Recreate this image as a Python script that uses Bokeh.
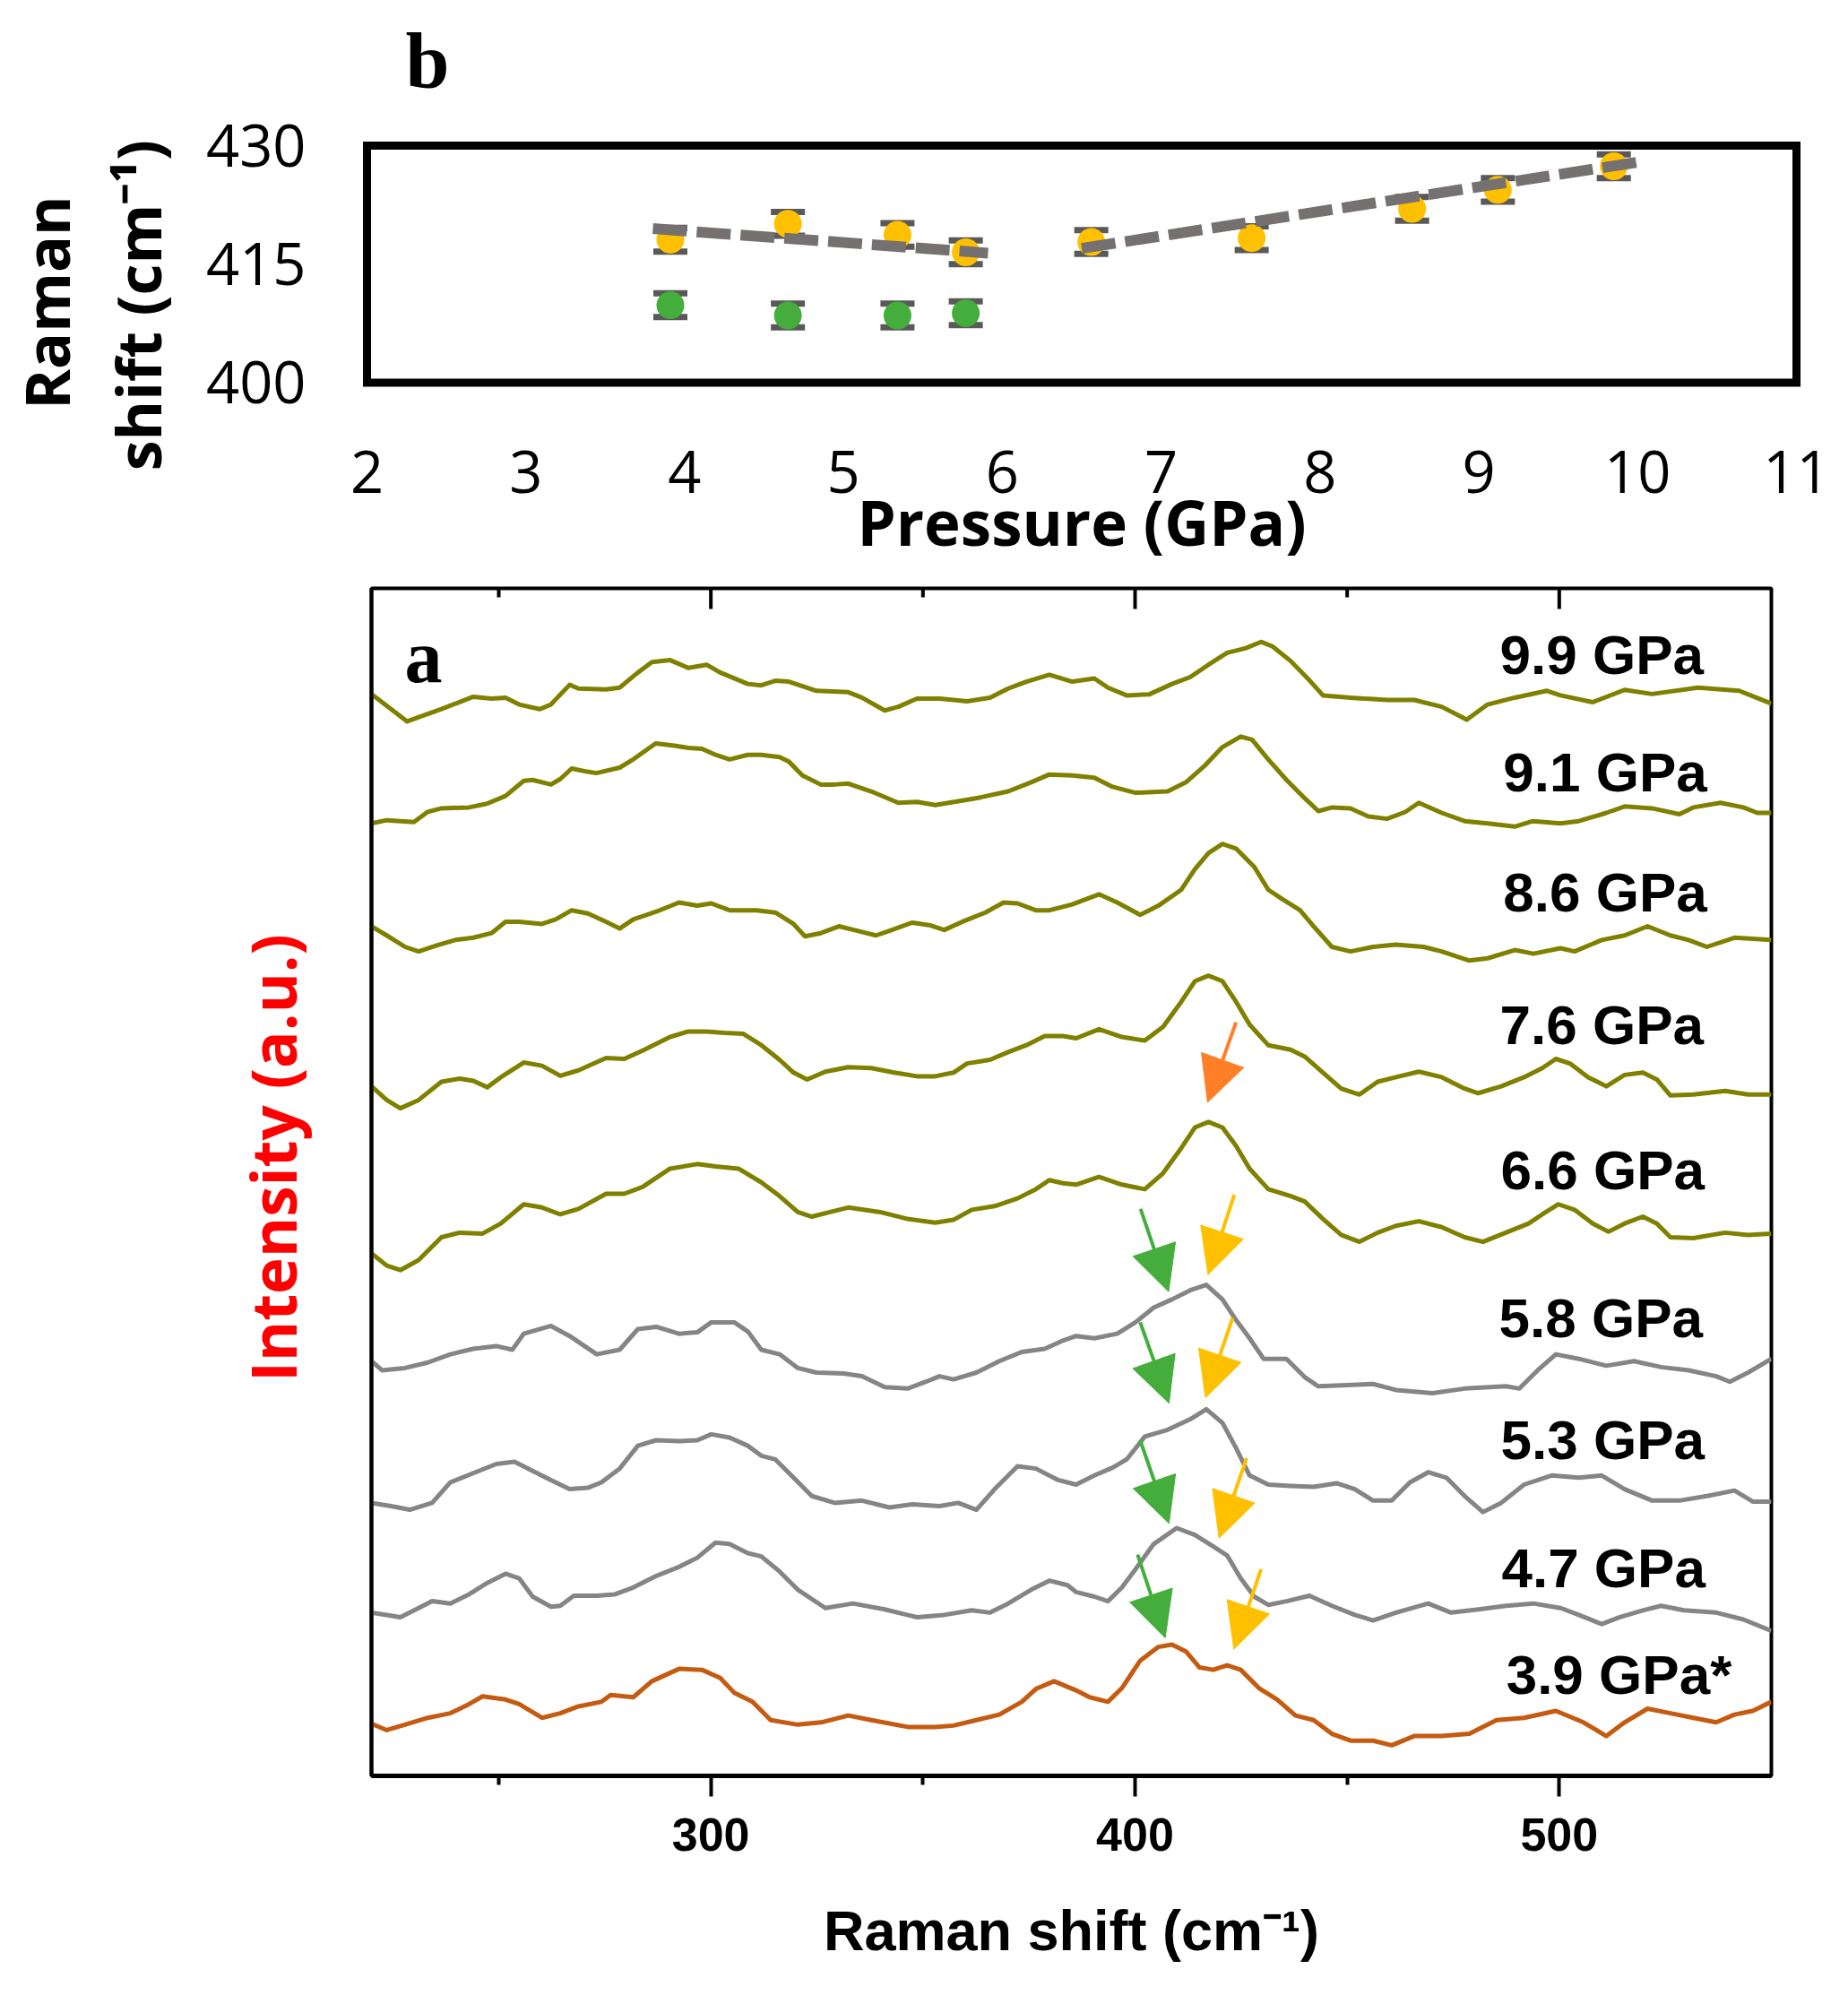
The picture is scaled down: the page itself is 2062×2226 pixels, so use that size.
import math
from bokeh.plotting import figure
from bokeh.models import Range1d, FixedTicker, Arrow, NormalHead, ColumnDataSource
from bokeh.layouts import column, row
from bokeh.core.properties import value
from bokeh.embed import file_html
from bokeh.resources import INLINE

# ---------------- panel b data ----------------
P_YELLOW = [3.91, 4.65, 5.34, 5.77, 6.56, 7.57, 8.58, 9.12, 9.85]
S_YELLOW = [418.1, 420.1, 418.7, 416.5, 417.8, 418.3, 422.0, 424.4, 427.4]
P_GREEN = [3.91, 4.65, 5.34, 5.77]
S_GREEN = [409.8, 408.5, 408.5, 408.8]
ERR = 1.5
FIT1_P = [3.80, 5.91]
FIT1_S = [419.5, 416.4]
FIT2_P = [6.50, 10.0]
FIT2_S = [417.0, 427.9]
B_XTICKS = [2, 3, 4, 5, 6, 7, 8, 9, 10, 11]
B_YTICKS = [400, 415, 430]
B_BOX = dict(left=[2], right=[11], bottom=[400], top=[430])

# ---------------- panel a data (Raman shift cm-1, intensity a.u.) ----------------
S_99 = [(220, 2366), (228.4, 2306), (236.5, 2333), (244, 2360), (248.3, 2356), (251.6, 2358), (254.8, 2343),
        (259.7, 2333), (262.3, 2343), (266.7, 2386), (268.8, 2378), (275.3, 2376), (278.5, 2380), (282.8, 2413),
        (286.1, 2436), (290.4, 2440), (294.7, 2423), (299, 2430), (302.2, 2413), (308.7, 2388), (311.9, 2385),
        (315.2, 2395), (318.4, 2393), (324.9, 2373), (332.4, 2370), (335.6, 2358), (341, 2330), (344.2, 2338),
        (348.6, 2356), (353.9, 2356), (360.4, 2350), (365.8, 2358), (370.1, 2378), (374.4, 2393), (379.8, 2408),
        (385.2, 2393), (390.4, 2400), (393.6, 2380), (398, 2363), (403.3, 2365), (408.7, 2388), (413, 2403),
        (417.3, 2430), (421.7, 2456), (426, 2466), (429.7, 2480), (432.4, 2470), (436.7, 2438), (441.1, 2396),
        (444.3, 2363), (450.8, 2358), (459.4, 2353), (465.8, 2353), (472.3, 2338), (478.2, 2310), (483.1, 2343),
        (489.5, 2358), (497.1, 2373), (500.3, 2363), (507.9, 2348), (515.4, 2375), (521.9, 2366), (532.7, 2380),
        (542.4, 2373), (550, 2345)]
S_91 = [(220, 2083), (223.6, 2090), (230.0, 2086), (233.2, 2108), (236.5, 2116), (243, 2118), (247.2, 2126),
        (251.6, 2143), (255.9, 2176), (258.0, 2178), (262.3, 2168), (264.5, 2180), (267.2, 2203), (270.9, 2196),
        (273, 2193), (278.5, 2205), (281.7, 2223), (287, 2258), (291.4, 2253), (294.7, 2248), (297.9, 2246),
        (301.1, 2233), (304.4, 2223), (308.7, 2233), (311.9, 2233), (316.2, 2228), (318.4, 2218), (321.6, 2188),
        (325.9, 2168), (329.1, 2168), (332.4, 2170), (337.8, 2153), (344.2, 2128), (348.6, 2130), (352.9, 2123),
        (359.3, 2133), (363.6, 2140), (370.1, 2153), (375.5, 2173), (379.8, 2190), (385.2, 2188), (390.4, 2183),
        (394.7, 2163), (400.1, 2150), (407.7, 2153), (412, 2173), (416.3, 2208), (420.6, 2250), (424.9, 2273),
        (427.6, 2266), (431.4, 2223), (435.7, 2178), (440, 2138), (443.2, 2110), (446.5, 2118), (450.8, 2116),
        (455, 2098), (459.4, 2093), (463.7, 2108), (466.9, 2128), (472.3, 2106), (477.7, 2088), (483.1, 2083),
        (489.5, 2076), (493.8, 2088), (500.3, 2083), (504.6, 2088), (511.1, 2106), (515.4, 2120), (521.9, 2116),
        (528.3, 2103), (531.6, 2118), (538, 2128), (543.4, 2118), (546.7, 2106), (550, 2106)]
S_86 = [(220, 1858), (223.6, 1838), (227.9, 1813), (231.1, 1803), (235.4, 1816), (239.7, 1828), (244, 1833),
        (248.3, 1843), (251.6, 1868), (254.8, 1868), (260.2, 1863), (263.4, 1873), (267.2, 1893), (271, 1886),
        (275.3, 1868), (278.5, 1853), (281.7, 1873), (287.1, 1890), (292.5, 1910), (296.8, 1903), (300.1, 1908),
        (304.4, 1893), (310.8, 1893), (315.2, 1888), (319.5, 1863), (322.2, 1836), (325.9, 1843), (330.2, 1858),
        (334.6, 1848), (338.9, 1838), (342.1, 1848), (347.5, 1866), (351.8, 1860), (355, 1850), (359.3, 1868),
        (364.7, 1888), (369, 1910), (372.3, 1908), (376.6, 1893), (379.8, 1893), (385.2, 1906), (391.5, 1928),
        (395.8, 1910), (401.2, 1883), (405.5, 1903), (410.9, 1938), (414.1, 1983), (417.3, 2018), (420.6, 2038),
        (423.8, 2028), (428.1, 1988), (431.4, 1938), (434.6, 1918), (438.9, 1893), (442.1, 1858), (446.4, 1813),
        (450.8, 1803), (456.1, 1813), (461.5, 1818), (468, 1813), (472.3, 1803), (478.8, 1783), (483.1, 1788),
        (489.5, 1806), (493.9, 1798), (500.3, 1810), (503.6, 1803), (510, 1828), (515.4, 1838), (520.8, 1858),
        (526.2, 1838), (530.5, 1828), (534.8, 1813), (541.3, 1833), (550, 1828)]
S_76 = [(220, 1508), (223.6, 1478), (226.8, 1460), (231.1, 1478), (236.5, 1518), (240.8, 1525), (244, 1520),
        (247.3, 1506), (250.5, 1528), (255.9, 1560), (260.2, 1553), (264.5, 1531), (268.8, 1543), (275.3, 1570),
        (279.6, 1568), (283.9, 1586), (290.4, 1616), (294.7, 1628), (299, 1628), (303.3, 1625), (307.6, 1623),
        (311.9, 1598), (316.2, 1566), (319.5, 1538), (322.7, 1523), (327, 1540), (332.4, 1550), (337.8, 1548),
        (343.2, 1538), (348.6, 1530), (352.9, 1530), (357.2, 1538), (360.4, 1558), (365.8, 1566), (370.1, 1583),
        (374.4, 1598), (378.7, 1618), (383, 1618), (386.1, 1613), (391.5, 1633), (396.9, 1616), (402.3, 1608),
        (406.6, 1638), (410.9, 1693), (414.1, 1738), (417.3, 1750), (420.6, 1738), (423.8, 1693), (427, 1643),
        (431.4, 1598), (436.7, 1588), (440, 1573), (444.3, 1538), (448.6, 1503), (452.9, 1490), (457.2, 1518),
        (461.5, 1528), (466.9, 1540), (472.3, 1528), (477.7, 1503), (480.9, 1493), (486.3, 1508), (491.7, 1528),
        (496, 1548), (499.2, 1568), (502.5, 1558), (506.8, 1528), (511.1, 1508), (515.4, 1533), (519.7, 1538),
        (523, 1523), (526.2, 1488), (531.6, 1490), (539.1, 1498), (544.5, 1490), (550, 1490)]
S_66 = [(220, 1143), (223.6, 1116), (226.8, 1106), (231.1, 1128), (236.5, 1178), (240.8, 1188), (246.2, 1186),
        (250.5, 1208), (255.9, 1250), (260.2, 1243), (264.5, 1228), (268.8, 1240), (275.3, 1273), (279.6, 1273),
        (283.9, 1288), (290.4, 1328), (296.8, 1338), (301.1, 1333), (306.5, 1328), (311.9, 1298), (316.2, 1268),
        (320.5, 1233), (323.8, 1223), (328.1, 1233), (332.4, 1243), (339.9, 1233), (346.4, 1218), (352.9, 1210),
        (357.2, 1216), (361.5, 1238), (366.9, 1246), (372.3, 1263), (376.6, 1283), (379.8, 1303), (383, 1296),
        (386.1, 1293), (391.5, 1310), (396.9, 1293), (402.3, 1283), (406.6, 1318), (410.9, 1373), (414.1, 1418),
        (417.3, 1430), (420.6, 1418), (423.8, 1378), (427, 1328), (431.4, 1283), (436.7, 1268), (440, 1256),
        (444.3, 1218), (448.6, 1183), (452.9, 1168), (457.2, 1188), (461.5, 1203), (466.9, 1213), (472.3, 1200),
        (477.7, 1178), (482, 1168), (487.4, 1188), (492.8, 1208), (496, 1228), (499.8, 1250), (503.6, 1238),
        (507.9, 1208), (511.6, 1190), (515.4, 1208), (519.7, 1223), (523, 1208), (526.2, 1178), (531.6, 1176),
        (539.1, 1188), (544.5, 1183), (550, 1186)]
S_58 = [(220, 907), (222.5, 887), (227.9, 892), (233.3, 904), (238.6, 922), (244, 934), (249.4, 940),
        (253.2, 932), (255.9, 967), (262.3, 984), (266.7, 962), (273.1, 922), (278.5, 932), (282.8, 977),
        (287.1, 982), (292.5, 967), (296.8, 970), (300.1, 992), (305.5, 992), (308.7, 972), (311.9, 932),
        (316.2, 922), (320.5, 892), (324.9, 882), (331.3, 880), (335.6, 874), (341, 850), (346.4, 847),
        (350.7, 862), (353.9, 874), (357.2, 867), (362.6, 882), (368, 907), (373.3, 927), (378.7, 934),
        (383, 952), (386.1, 962), (390.4, 957), (395.8, 967), (400.1, 992), (404.4, 1024), (408.7, 1042),
        (413, 1062), (416.8, 1074), (420.6, 1042), (423.8, 997), (427, 957), (430.3, 912), (435.7, 912),
        (440, 872), (443.2, 852), (448.6, 854), (456.1, 857), (461.5, 844), (470.1, 837), (477.7, 847),
        (487.4, 852), (490.6, 847), (494.9, 887), (499.2, 922), (504.6, 912), (511.1, 897), (517.6, 907),
        (524, 894), (530.5, 887), (537, 874), (540.2, 862), (544.5, 882), (550, 912)]
S_53 = [(220, 597), (224.6, 590), (229, 582), (234.3, 597), (238.6, 642), (244, 662), (249.4, 682),
        (253.7, 687), (258, 667), (262.3, 647), (266.7, 627), (271, 630), (274.2, 642), (278.5, 672),
        (282.8, 722), (287.1, 734), (292.5, 732), (296.8, 734), (300.1, 747), (304.4, 740), (308.7, 722),
        (311.9, 700), (315.2, 692), (319.5, 652), (323.8, 612), (329.2, 597), (335.6, 602), (342.1, 587),
        (347.5, 594), (353.9, 590), (358.3, 597), (362.6, 582), (366.9, 627), (372.3, 677), (376.6, 672),
        (381.9, 647), (386.1, 637), (390.4, 657), (394.7, 674), (398, 692), (402.3, 742), (407.7, 757),
        (413, 780), (416.8, 802), (420.6, 772), (423.8, 717), (427, 657), (431.4, 637), (436.7, 634),
        (442.1, 632), (447.5, 640), (451.8, 627), (456.1, 602), (460.5, 602), (464.8, 642), (469.1, 664),
        (473.4, 652), (477.7, 612), (482, 577), (486.3, 597), (491.7, 637), (498.2, 657), (504.6, 652),
        (510, 657), (515.4, 627), (521.9, 602), (528.3, 602), (534.8, 612), (541.3, 624), (545.6, 600),
        (550, 600)]
S_47 = [(220, 357), (223.6, 352), (226.8, 347), (231.1, 367), (234.3, 382), (238.6, 377), (243, 397),
        (247.3, 422), (251.6, 442), (254.8, 432), (258, 392), (262.3, 370), (264.5, 372), (267.7, 394),
        (273.1, 394), (277.4, 397), (281.7, 412), (287.1, 437), (292.5, 457), (296.8, 477), (301.1, 510),
        (304.4, 507), (308.7, 487), (311.9, 480), (316.2, 447), (320.5, 407), (327, 367), (333.5, 377),
        (341, 364), (348.6, 347), (355, 352), (361.5, 362), (365.8, 357), (370.1, 377), (375.5, 407),
        (379.8, 427), (384.1, 417), (386.1, 402), (390.4, 392), (393.6, 382), (396.9, 412), (400.1, 452),
        (404.4, 507), (409.8, 542), (414.1, 527), (418.4, 502), (421.7, 482), (424.9, 432), (428.1, 392),
        (431.4, 374), (435.7, 382), (441.1, 394), (446.4, 372), (451.8, 352), (456.1, 340), (461.5, 357),
        (469.1, 377), (474.5, 357), (481, 364), (487.4, 372), (493.9, 377), (500.3, 367), (504.6, 352),
        (510, 332), (514.3, 347), (519.7, 362), (524, 372), (529.4, 362), (537, 357), (543.4, 342),
        (550, 317)]
S_39 = [(220, 114), (223.6, 100), (227.9, 112), (233.3, 127), (238.6, 137), (243, 157), (246.2, 174),
        (251.6, 167), (254.8, 157), (260.2, 127), (264.5, 137), (268.8, 152), (274.2, 162), (276.4, 177),
        (281.7, 172), (286.1, 207), (292.5, 234), (297.9, 232), (302.2, 214), (305.5, 182), (309.8, 162),
        (314.1, 122), (320.5, 112), (326, 117), (332.4, 132), (337.8, 122), (346.4, 107), (352.9, 107),
        (357.2, 110), (362.6, 122), (368, 134), (373.3, 162), (376.6, 190), (380.9, 207), (386.1, 187),
        (389.3, 172), (393.6, 162), (396.9, 192), (401.2, 252), (405.5, 282), (408.7, 287), (412, 272),
        (415.2, 237), (418.4, 232), (421.7, 242), (424.9, 232), (429.2, 192), (433.5, 167), (437.8, 132),
        (442.1, 122), (446.4, 92), (450.8, 77), (456.1, 77), (460.5, 67), (465.8, 87), (472.3, 87),
        (478.8, 92), (485.2, 122), (491.7, 127), (499.2, 142), (505.7, 117), (511.1, 87), (515.4, 117),
        (520.8, 147), (526.2, 137), (531.6, 127), (537, 117), (541.3, 134), (545.6, 142), (550, 162)]

SPEC_LABELS = ["9.9 GPa", "9.1 GPa", "8.6 GPa", "7.6 GPa", "6.6 GPa", "5.8 GPa", "5.3 GPa", "4.7 GPa", "3.9 GPa*"]
LABEL_X = [486, 486.8, 486.8, 486, 486.2, 485.8, 486.2, 486.4, 487.5]
LABEL_Y = [2452, 2195, 1933, 1643, 1325, 1002, 735, 455, 222]
A_XTICKS = [300, 400, 500]
A_XMINOR = [250, 350, 450]

# arrows (start -> tip)
ARR_ORANGE = dict(x0=[423.8], y0=[1648], x1=[417.1], y1=[1473])
ARR_GREEN = dict(x0=[401.3, 401.2, 401.2, 400.6], y0=[1240, 992, 734, 484],
                 x1=[407.9, 408.0, 408.0, 407.1], y1=[1059, 815, 552, 302])
ARR_YELLOW = dict(x0=[423.4, 423.0, 426.3, 429.7], y0=[1271, 1002, 695, 452],
                  x1=[417.2, 416.6, 419.8, 423.3], y1=[1096, 827, 520, 277])

OLIVE = "#808000"
GREY = "#858585"
BROWN = "#C55A11"
YELLOW = "#FFC000"
GREEN = "#44AD3C"
ORANGE = "#FF7F27"
SPEC_COLORS = [OLIVE] * 5 + [GREY] * 3 + [BROWN]
SPECTRA = [S_99, S_91, S_86, S_76, S_66, S_58, S_53, S_47, S_39]

NBSP = "\u00a0"
COMMON = dict(output_backend="svg", toolbar_location=None)

# ================= y-title strip left of panel b =================
lab = figure(width=210, height=652, x_range=Range1d(0, 210), y_range=Range1d(374.43, 448.37),
             x_axis_location=None, y_axis_location=None,
             min_border_left=0, min_border_right=0, min_border_top=0, min_border_bottom=0, **COMMON)
lab.outline_line_color = None
lab.grid.visible = False
lab.text(x=[51, 152.5], y=[410.15, 409.81], text=["Raman", "shift (cm\u207b\u00b9)"], angle=math.pi / 2,
         text_font=value("Open Sans"), text_font_size=value("68px"), text_font_style="bold",
         text_color="black", text_align="center", text_baseline="alphabetic")

# ================= panel b =================
# the frame reaches above the boxed area so that the panel letter can sit inside it
pb = figure(width=1852, height=652, x_range=Range1d(1.9718, 11.0282), y_range=Range1d(399.376, 446.105),
            min_border_left=194, min_border_right=53, min_border_top=20, min_border_bottom=220, **COMMON)
pb.outline_line_color = None
pb.grid.visible = False

xa = pb.xaxis[0]
xa.ticker = FixedTicker(ticks=B_XTICKS)
xa.axis_line_color = None
xa.major_tick_in = 0
xa.major_tick_out = 0
xa.minor_tick_in = 0
xa.minor_tick_out = 0
xa.major_label_text_font = "Open Sans"
xa.major_label_text_font_size = "65px"
xa.major_label_text_color = "black"
xa.major_label_standoff = 70
xa.axis_label = "Pressure (GPa)"
xa.axis_label_text_font = "Open Sans"
xa.axis_label_text_font_size = "69px"
xa.axis_label_text_font_style = "bold"
xa.axis_label_text_color = "black"
xa.axis_label_standoff = -18

ya = pb.yaxis[0]
ya.ticker = FixedTicker(ticks=B_YTICKS)
ya.axis_line_color = None
ya.major_tick_in = 0
ya.major_tick_out = 0
ya.minor_tick_in = 0
ya.minor_tick_out = 0
ya.major_label_text_font = "Open Sans"
ya.major_label_text_font_size = "65px"
ya.major_label_text_color = "black"
ya.major_label_standoff = 63

pb.quad(**B_BOX, fill_color=None, line_color="black", line_width=9, line_join="miter")

err_lo_y = [s - ERR for s in S_YELLOW]
err_hi_y = [s + ERR for s in S_YELLOW]
err_lo_g = [s - ERR for s in S_GREEN]
err_hi_g = [s + ERR for s in S_GREEN]
CAP = "#595959"
pb.segment(P_YELLOW, err_lo_y, P_YELLOW, err_hi_y, line_color=CAP, line_width=3)
pb.segment(P_GREEN, err_lo_g, P_GREEN, err_hi_g, line_color=CAP, line_width=3)
for px, ys in ((P_YELLOW, err_lo_y), (P_YELLOW, err_hi_y), (P_GREEN, err_lo_g), (P_GREEN, err_hi_g)):
    pb.rect(x=px, y=ys, width=38, height=7, width_units="screen", height_units="screen",
            fill_color=CAP, line_color=None)
pb.scatter(P_YELLOW, S_YELLOW, size=31, fill_color=YELLOW, line_color=None)
pb.scatter(P_GREEN, S_GREEN, size=31, fill_color=GREEN, line_color=None)
for fp, fs in ((FIT1_P, FIT1_S), (FIT2_P, FIT2_S)):
    pb.line(fp, fs, line_color="#767171", line_width=12, line_dash="38 11", line_cap="butt")

pb.text(x=[2.243], y=[440.67], text=["b"], text_font=value("Liberation Serif"),
        text_font_size=value("88px"), text_font_style="bold", text_color="black",
        text_align="left", text_baseline="alphabetic")

# ================= panel a =================
A_YMAX = 2597
A_FRAME_H = 1325
pa = figure(width=2062, height=1574, x_range=Range1d(220, 550), y_range=Range1d(0, A_YMAX),
            min_border_left=414, min_border_right=86, min_border_top=4, min_border_bottom=245, **COMMON)
pa.outline_line_color = "black"
pa.outline_line_width = 4
pa.grid.visible = False

bx = pa.xaxis[0]
bx.ticker = FixedTicker(ticks=A_XTICKS, minor_ticks=A_XMINOR)
bx.axis_line_color = "black"
bx.axis_line_width = 5
bx.major_tick_in = 0
bx.major_tick_out = 23
bx.minor_tick_in = 0
bx.minor_tick_out = 10
bx.major_tick_line_width = 4
bx.minor_tick_line_width = 4
bx.major_tick_line_color = "black"
bx.minor_tick_line_color = "black"
bx.major_label_text_font = "Liberation Sans"
bx.major_label_text_font_size = "52px"
bx.major_label_text_font_style = "bold"
bx.major_label_text_color = "black"
bx.major_label_standoff = 24
bx.axis_label = "Raman shift (cm\u207b\u00b9)"
bx.axis_label_text_font = "Liberation Sans"
bx.axis_label_text_font_size = "63px"
bx.axis_label_text_font_style = "bold"
bx.axis_label_text_color = "black"
bx.axis_label_standoff = 51

ly = pa.yaxis[0]
ly.ticker = FixedTicker(ticks=[])
ly.axis_line_color = "black"
ly.axis_line_width = 4
ly.major_tick_in = 0
ly.major_tick_out = 0
ly.minor_tick_in = 0
ly.minor_tick_out = 0
ly.major_label_standoff = 0
ly.axis_label = NBSP * 3 + "Intensity (a.u.)"
ly.axis_label_text_font = "Open Sans"
ly.axis_label_text_font_size = "69px"
ly.axis_label_text_font_style = "bold"
ly.axis_label_text_color = "#FF0000"
ly.axis_label_standoff = 64

# inward ticks on the top edge of panel a (same tick positions as the bottom axis)
units_per_px = A_YMAX / A_FRAME_H
pa.segment(x0=A_XTICKS, y0=[A_YMAX] * len(A_XTICKS), x1=A_XTICKS,
           y1=[A_YMAX - 23 * units_per_px] * len(A_XTICKS), line_color="black", line_width=4)
pa.segment(x0=A_XMINOR, y0=[A_YMAX] * len(A_XMINOR), x1=A_XMINOR,
           y1=[A_YMAX - 10 * units_per_px] * len(A_XMINOR), line_color="black", line_width=4)

for spec, col in zip(SPECTRA, SPEC_COLORS):
    xs = [p[0] for p in spec]
    ys = [p[1] for p in spec]
    pa.line(xs, ys, line_color=col, line_width=5, line_join="round")

pa.text(x=LABEL_X, y=LABEL_Y, text=SPEC_LABELS, text_font=value("Liberation Sans"),
        text_font_size=value("62px"), text_font_style="bold", text_color="black",
        text_align="left", text_baseline="alphabetic")
pa.text(x=[227.8], y=[2448], text=["a"], text_font=value("Liberation Serif"),
        text_font_size=value("84px"), text_font_style="bold", text_color="black",
        text_align="left", text_baseline="alphabetic")

for arr, col in ((ARR_ORANGE, ORANGE), (ARR_GREEN, GREEN), (ARR_YELLOW, YELLOW)):
    src = ColumnDataSource(arr)
    pa.add_layout(Arrow(end=NormalHead(size=50, fill_color=col, line_color=col, line_width=1),
                        x_start="x0", y_start="y0", x_end="x1", y_end="y1", source=src,
                        line_color=col, line_width=4))

for p in (lab, pb, pa):
    try:
        p.frame_align = False
    except AttributeError:
        pass

layout = column(row(lab, pb, spacing=0), pa, spacing=0)
open("out.html", "w").write(file_html(layout, INLINE))
